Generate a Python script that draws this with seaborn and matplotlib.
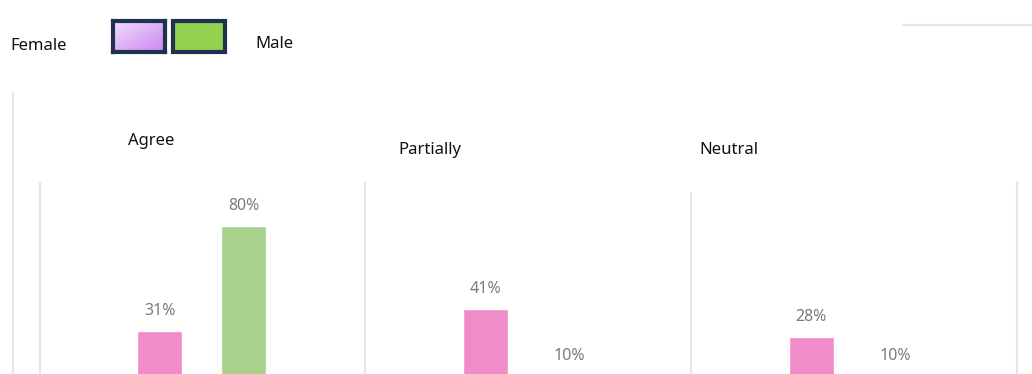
import numpy as np
import pandas as pd
import matplotlib
matplotlib.use("Agg")
import matplotlib.pyplot as plt
import seaborn as sns
from matplotlib.patches import Rectangle
from matplotlib.lines import Line2D

# ---- data ----
categories = ["Agree", "Partially", "Neutral"]
genders = ["Female", "Male"]
female_pct = [31, 41, 28]
male_pct = [80, 10, 10]

sns.set_theme(style="white")
plt.rcParams["font.family"] = ["Noto Sans", "DejaVu Sans"]

W, H = 1032, 374
fig = plt.figure(figsize=(W / 100, H / 100), dpi=100)

def fx(px):
    return px / W

def fy(py):
    return 1 - py / H

pal = {"Female": "#F08CC8", "Male": "#A9D18E"}
line_col = "#E6E6E6"

baseline = 397
px_per_pct = 2.14
panels = [(40, 365, 183), (365, 691, 183), (691, 1017, 193)]
title_pos = [(128, 141), (398, 150), (699, 150)]

for i, cat in enumerate(categories):
    x0, x1, top = panels[i]
    ax = fig.add_axes([fx(x0), fy(baseline), fx(x1 - x0), (baseline - top) / H])
    sub = pd.DataFrame({"gender": genders, "value": [female_pct[i], male_pct[i]]})
    sns.barplot(data=sub, x="gender", y="value", hue="gender", palette=pal,
                width=45 / 84, ax=ax, legend=False, saturation=1)
    ax.set_xlim(-(120 / 84), 1 + (121 / 84))
    ax.set_ylim(0, (baseline - top) / px_per_pct)
    ax.set_xlabel("")
    ax.set_ylabel("")
    ax.set_xticks([])
    ax.set_yticks([])
    for s in ["top", "right", "bottom"]:
        ax.spines[s].set_visible(False)
    ax.spines["left"].set_color(line_col)
    ax.spines["left"].set_linewidth(1.6)
    for j, v in enumerate(sub["value"]):
        ax.annotate(f"{v}%", (j, v), xytext=(0, 14.4), textcoords="offset points",
                    ha="center", va="center", color="#7A7A7A", fontsize=11.5,
                    annotation_clip=False)
    tx, ty = title_pos[i]
    fig.text(fx(tx), fy(ty), cat, ha="left", va="center", fontsize=12, color="#111111")

# right border of last panel
fig.add_artist(Line2D([fx(1017), fx(1017)], [fy(182), fy(374)], color=line_col, lw=1.6))
# outer left line
fig.add_artist(Line2D([fx(13), fx(13)], [fy(93), fy(374)], color=line_col, lw=1.6))
# top-right horizontal line
fig.add_artist(Line2D([fx(903), fx(1032)], [fy(25), fy(25)], color=line_col, lw=1.6))

# legend
fig.text(fx(10), fy(46), "Female", ha="left", va="center", fontsize=12, color="#111111")
fig.text(fx(255), fy(44), "Male", ha="left", va="center", fontsize=12, color="#111111")

# purple gradient box
gax = fig.add_axes([fx(113), fy(52), fx(52), 31 / H])
grad = np.linspace(0, 1, 64)
gx, gy = np.meshgrid(grad, grad)
g = (gx + gy) / 2
c1 = np.array([0xF0, 0xDE, 0xFC]) / 255
c2 = np.array([0xCC, 0x84, 0xF0]) / 255
img = c1[None, None, :] * (1 - g[..., None]) + c2[None, None, :] * g[..., None]
gax.imshow(img, aspect="auto", extent=[0, 1, 0, 1])
gax.set_xticks([]); gax.set_yticks([])
for s in gax.spines.values():
    s.set_color("#1F3250"); s.set_linewidth(3)

# green box
fig.add_artist(Rectangle((fx(173), fy(52)), fx(52), 31 / H, facecolor="#92D050",
                         edgecolor="#1F3250", lw=3, transform=fig.transFigure))

fig.savefig("out.png", dpi=100, facecolor="white")
